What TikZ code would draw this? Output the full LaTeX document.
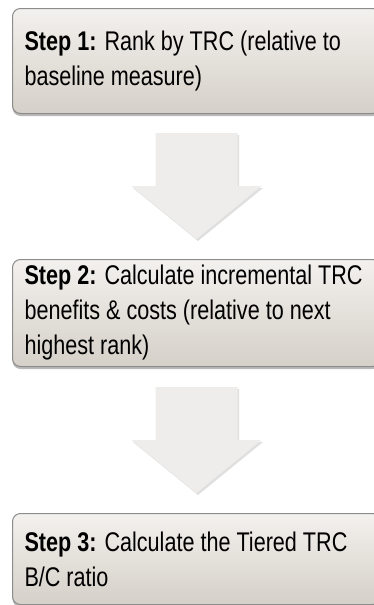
\documentclass[tikz,border=0pt]{standalone}
\usepackage{fontspec}
\setmainfont{Liberation Sans}[FakeStretch=0.8]
\usetikzlibrary{positioning,calc,shadows}
\definecolor{boxtop}{HTML}{F3F1EE}
\definecolor{boxbottom}{HTML}{D5D0C8}
\definecolor{boxline}{HTML}{8C8C8C}
\definecolor{arrowfill}{HTML}{EEEDEB}

\begin{document}
\begin{tikzpicture}[node distance=20pt,
  stepbox/.style={draw=boxline,line width=1pt,rounded corners=8pt,
                  top color=boxtop,bottom color=boxbottom,
                  drop shadow={shadow xshift=0pt,shadow yshift=-2.5pt,opacity=0.55},
                  text width=344pt,inner xsep=12pt,align=flush left,
                  font=\fontsize{27}{35}\selectfont},
  downarrow/.style={fill=arrowfill,draw=none,
                    drop shadow={shadow xshift=1.5pt,shadow yshift=-2pt,opacity=0.25}}]
\useasboundingbox (0,0) rectangle (374pt,-605pt);
\node (rank) [stepbox,minimum height=105pt,anchor=north west] at (12pt,-8pt)
  {\textbf{Step 1:} Rank by TRC (relative to\\baseline measure)};
\draw[downarrow] ($(rank.south)+(-41pt,-19pt)$) -- ++(82pt,0) -- ++(0,-53pt) -- ++(24pt,0)
  -- ++(-65pt,-53pt) coordinate (tip1) -- ++(-65pt,53pt) -- ++(24pt,0) -- cycle;
\node (incr) [stepbox,minimum height=107pt,below=20pt of tip1]
  {\textbf{Step 2:} Calculate incremental TRC\\benefits \& costs (relative to next\\highest rank)};
\draw[downarrow] ($(incr.south)+(-41pt,-20pt)$) -- ++(82pt,0) -- ++(0,-53pt) -- ++(24pt,0)
  -- ++(-65pt,-53pt) coordinate (tip2) -- ++(-65pt,53pt) -- ++(24pt,0) -- cycle;
\node (tier) [stepbox,minimum height=91pt,below=20pt of tip2]
  {\textbf{Step 3:} Calculate the Tiered TRC\\B/C ratio};
\end{tikzpicture}
\end{document}
